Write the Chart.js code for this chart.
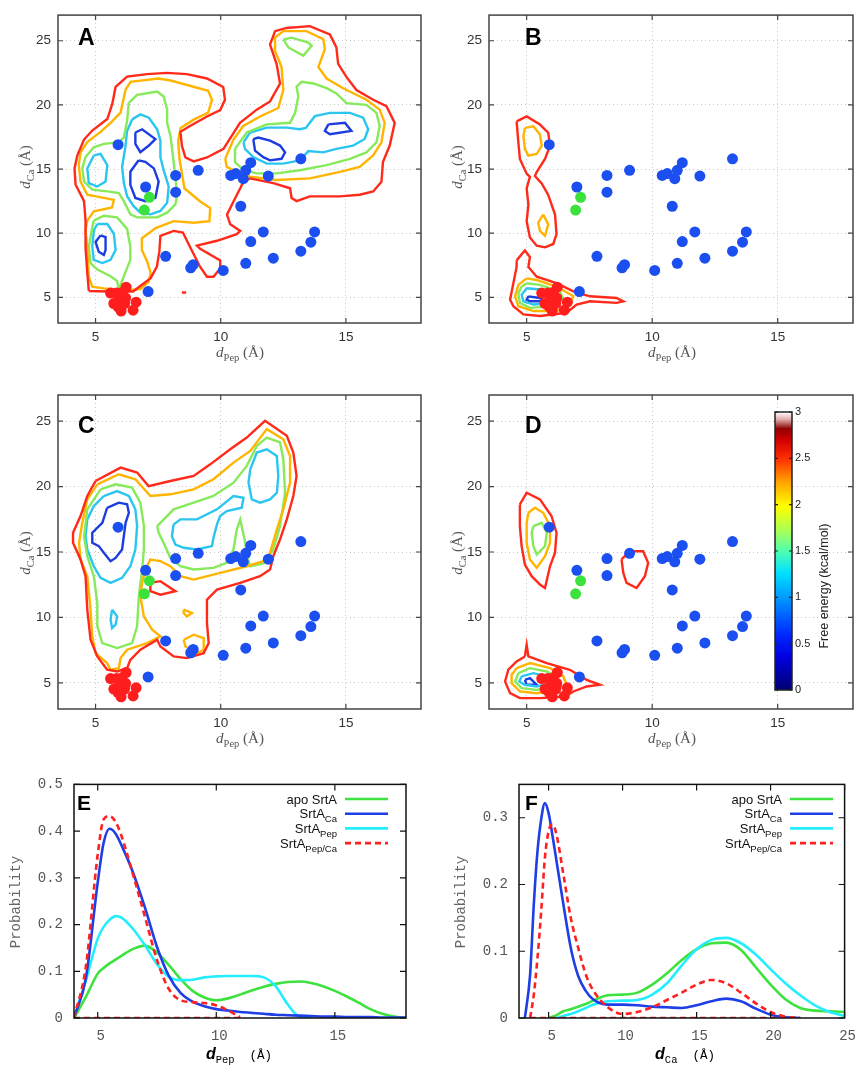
<!DOCTYPE html>
<html>
<head>
<meta charset="utf-8">
<title>SrtA free energy maps</title>
<script src="https://cdn.jsdelivr.net/npm/chart.js@4.4.1/dist/chart.umd.min.js"></script>
<style>
  body { margin: 0; background: #fff; }
  #fig { position: relative; width: 863px; height: 1066px; overflow: hidden; }
  #fig canvas { position: absolute; }
</style>
</head>
<body>
<div id="fig">
  <canvas id="pA" width="431" height="370" style="left:0;top:0"></canvas>
  <canvas id="pB" width="432" height="370" style="left:431px;top:0"></canvas>
  <canvas id="pC" width="431" height="385" style="left:0;top:375px"></canvas>
  <canvas id="pD" width="432" height="385" style="left:431px;top:375px"></canvas>
  <canvas id="cbar" width="80" height="300" style="left:765px;top:400px"></canvas>
  <canvas id="pE" width="431" height="301" style="left:0;top:765px"></canvas>
  <canvas id="pF" width="432" height="301" style="left:431px;top:765px"></canvas>
</div>
<script>
// tick labels
const mapXTicks = [5, 10, 15];
const mapYTicks = [5, 10, 15, 20, 25];
const cbTicks = [0, 0.5, 1, 1.5, 2, 2.5, 3];
const eXTicks = [5, 10, 15];
const eYTicks = [0, 0.1, 0.2, 0.3, 0.4, 0.5];
const fXTicks = [5, 10, 15, 20, 25];
const fYTicks = [0, 0.1, 0.2, 0.3];

// structures marked on every map (dPep, dCa)
const blueSites = [[5.9,16.9],[7.0,13.6],[8.2,14.5],[8.2,13.2],[9.1,14.9],[10.4,14.5],[10.6,14.65],[11.0,14.9],[11.2,15.5],[10.9,14.25],[11.9,14.45],[13.2,15.8],[10.8,12.1],[11.7,10.1],[11.2,9.35],[13.75,10.1],[13.6,9.3],[13.2,8.6],[12.1,8.05],[11.0,7.65],[10.1,7.1],[8.9,7.55],[8.8,7.3],[7.8,8.2],[7.1,5.45]];
const greenSites = [[7.15,12.8],[6.95,11.8]];
const redSites = [[5.6,5.33],[5.84,5.33],[6.06,5.38],[6.22,5.79],[5.73,4.52],[5.97,4.82],[6.16,4.52],[6.02,3.93],[6.5,4.0],[6.62,4.62],[5.9,4.26],[6.2,4.95]];

// contour paths, A (apo SrtA)
const aRed = [
  [[4.73,5.5],[4.67,6.9],[4.6,8.9],[4.6,10.98],[4.54,12.5],[4.2,13.8],[4.16,15.05],[4.27,16.05],[4.54,17.3],[4.87,18.0],[5.47,18.9],[5.67,20.1],[5.8,21.4],[6.26,22.2],[7.06,22.4],[7.85,22.5],[8.65,22.4],[9.45,22.06],[10.1,21.4],[10.17,20.4],[9.98,19.6],[9.45,19.1],[8.72,18.3],[8.39,17.9],[8.45,16.8],[8.59,15.9],[8.92,15.6],[9.45,15.9],[10.11,16.57],[10.77,18.61],[11.44,19.63],[11.97,20.27],[12.37,21.67],[12.23,23.2],[11.97,24.7],[12.17,25.75],[12.63,26.0],[13.56,26.14],[14.36,25.5],[14.62,24.48],[14.69,23.2],[15.02,22.18],[15.42,21.16],[16.09,20.4],[16.62,19.9],[16.95,18.6],[16.75,16.83],[16.48,15.55],[16.42,14.0],[16.09,13.25],[15.55,13.0],[14.76,12.87],[13.56,12.87],[13.03,12.5],[12.83,12.74],[12.77,13.5],[12.1,13.9],[11.17,14.27],[10.9,14.0],[10.78,13.5],[10.51,12.47],[10.25,11.45],[10.38,10.69],[10.78,10.18],[10.64,9.92],[9.85,9.41],[9.05,9.03],[9.18,8.78],[9.98,7.88],[9.98,7.24],[9.71,6.61],[9.45,6.61],[9.18,7.37],[8.78,8.9],[8.49,10.05],[8.12,10.18],[7.59,9.8],[7.55,8.6],[7.45,7.4],[7.2,6.5],[6.8,5.9],[6.5,5.45],[5.5,5.45]],
  [[8.45,5.38],[8.62,5.38]]
];
const aOrange = [
  [[6.2,21.2],[6.4,21.8],[7.5,22.06],[8.0,21.9],[9.5,21.1],[9.65,20.4],[9.5,19.4],[8.92,18.85],[8.4,18.2],[8.3,17.2],[8.35,15.8],[8.55,13.5],[9.18,12.47],[9.58,11.96],[9.55,10.94],[8.92,10.82],[8.12,10.94],[7.4,10.4],[6.85,9.6],[6.85,8.7],[7.06,7.8],[7.2,6.9],[7.12,6.2],[6.8,5.65],[6.26,5.55],[5.33,5.7],[4.87,5.84],[4.73,6.6],[4.67,8.9],[4.6,10.2],[4.67,10.98],[4.93,11.7],[5.66,12.0],[5.73,12.6],[5.33,12.75],[4.67,13.0],[4.4,14.03],[4.33,15.3],[4.4,16.3],[4.67,17.1],[5.2,17.9],[5.6,18.6],[6.0,19.4]],
  [[10.18,15.8],[10.51,17.3],[10.9,18.36],[11.57,19.1],[12.3,19.76],[12.5,21.16],[12.43,22.95],[12.17,24.2],[12.17,25.24],[12.5,25.75],[13.43,25.75],[14.1,25.12],[14.16,24.35],[13.9,22.95],[14.23,22.06],[14.89,21.3],[15.82,20.4],[16.35,19.63],[16.55,18.6],[16.42,17.08],[16.09,16.06],[15.55,15.17],[14.76,14.78],[13.56,14.27],[12.23,14.15],[11.17,14.4],[10.64,14.78],[10.24,15.17]]
];
const aGreen = [
  [[6.33,20.15],[6.66,20.78],[7.46,21.04],[7.72,20.66],[7.86,19.64],[7.86,18.6],[7.99,17.6],[8.12,15.56],[8.19,14.28],[8.26,13.0],[8.19,12.24],[7.86,11.6],[7.46,11.23],[6.66,11.23],[6.39,11.47],[6.13,12.5],[5.93,13.13],[5.47,13.26],[4.87,13.39],[4.54,14.03],[4.47,15.05],[4.6,15.94],[4.93,16.7],[5.33,16.96],[5.93,17.08],[6.13,17.46],[6.26,18.74]],
  [[4.93,10.98],[5.33,11.36],[5.86,11.23],[6.26,10.34],[6.39,8.94],[6.39,7.92],[6.13,6.65],[5.93,5.6],[5.86,6.27],[5.6,6.65],[5.07,7.16],[4.8,7.67],[4.73,8.94],[4.87,10.47]],
  [[10.57,16.57],[11.04,17.85],[11.84,18.48],[12.77,18.61],[12.97,19.38],[13.1,20.65],[13.03,21.42],[13.23,21.8],[13.7,21.67],[14.23,21.3],[14.62,20.9],[15.02,20.14],[15.82,20.0],[16.22,19.38],[16.35,18.36],[16.22,17.08],[15.82,16.3],[15.16,15.8],[14.23,15.3],[13.16,14.91],[12.23,14.66],[11.44,14.66],[10.91,14.91],[10.57,15.55]],
  [[12.5,25.1],[12.7,24.48],[13.3,23.84],[13.63,24.6],[13.5,24.86],[12.83,25.24]]
];
const aCyan = [
  [[6.46,18.87],[6.79,19.26],[7.13,19.0],[7.46,18.1],[7.59,17.21],[7.59,15.94],[7.72,14.92],[7.92,13.64],[7.86,12.37],[7.59,11.73],[7.19,11.47],[6.79,11.6],[6.52,12.11],[6.26,12.88],[6.13,13.9],[6.06,15.18],[6.19,16.7],[6.26,17.97]],
  [[4.93,16.06],[5.2,16.19],[5.47,15.3],[5.4,14.03],[5.07,13.64],[4.73,13.9],[4.67,15.05]],
  [[5.07,10.72],[5.47,10.72],[5.73,9.96],[5.8,8.68],[5.6,7.92],[5.27,7.67],[4.93,7.92],[4.87,8.94],[4.93,10.21]],
  [[10.91,17.08],[11.17,17.85],[11.84,18.23],[12.63,18.23],[13.16,18.1],[13.4,18.2],[13.76,19.12],[14.36,19.38],[15.16,19.38],[15.69,19.0],[15.89,18.1],[15.75,17.34],[15.29,16.83],[14.62,16.57],[14.09,16.3],[13.5,16.4],[13.16,15.68],[12.5,15.42],[11.84,15.42],[11.3,15.93],[10.97,16.57]]
];
const aBlue = [
  [[6.59,17.85],[6.86,18.1],[7.39,17.34],[7.13,16.83],[6.79,16.32],[6.59,16.96]],
  [[6.72,15.68],[6.39,14.79],[6.39,13.77],[6.59,12.75],[6.99,12.5],[7.39,12.75],[7.52,14.03],[7.33,15.05],[6.99,15.56]],
  [[5.2,9.83],[5.4,9.7],[5.4,8.68],[5.33,8.3],[5.13,8.55],[5.0,9.32]],
  [[11.3,17.34],[11.5,17.46],[11.97,17.21],[12.37,16.83],[12.57,16.3],[12.43,15.8],[11.97,15.68],[11.7,15.93],[11.37,16.44]],
  [[14.3,18.48],[14.96,18.61],[15.22,17.97],[14.36,17.72],[14.16,17.97]]
];

// contour paths, B (SrtA Ca)
const bRed = [
  [[4.6,18.72],[5.0,19.1],[5.53,18.47],[5.86,17.83],[5.93,16.81],[5.73,15.79],[5.4,14.77],[5.33,14.46],[5.6,13.88],[5.86,12.98],[6.13,11.45],[6.19,9.92],[6.06,9.16],[5.73,8.9],[5.4,9.03],[5.13,9.67],[5.0,10.94],[5.07,12.22],[5.0,13.49],[5.13,14.39],[5.0,14.64],[4.73,15.79],[4.67,17.07]],
  [[4.6,7.88],[4.93,8.65],[5.13,8.14],[5.07,7.37],[5.4,6.61],[6.19,6.1],[6.86,5.46],[7.52,5.08],[8.58,4.95],[8.85,4.69],[8.58,4.57],[7.52,4.69],[6.99,4.44],[6.59,3.8],[5.53,3.55],[4.87,3.67],[4.47,4.31],[4.34,4.82],[4.47,6.1],[4.6,7.37]]
];
const bOrange = [
  [[4.93,18.21],[5.27,18.34],[5.53,17.7],[5.6,16.81],[5.4,16.17],[5.07,16.05],[4.93,16.56],[4.87,17.58]],
  [[5.66,11.45],[5.86,10.69],[5.73,9.8],[5.53,10.18],[5.46,10.82]],
  [[5.0,6.48],[5.4,6.35],[6.19,5.84],[6.86,5.08],[6.72,4.44],[6.19,3.93],[5.27,3.93],[4.67,4.31],[4.54,5.08],[4.67,5.97]]
];
const bGreen = [[[5.0,6.1],[5.53,5.97],[6.33,5.46],[6.46,4.82],[6.06,4.31],[5.13,4.18],[4.73,4.57],[4.67,5.33],[4.8,5.84]]];
const bCyan = [[[5.0,5.71],[5.66,5.59],[6.19,5.08],[6.06,4.57],[5.27,4.44],[4.87,4.69],[4.8,5.2]]];
const bBlue = [[[5.07,5.08],[5.53,4.95],[5.73,4.69],[5.13,4.69],[5.0,4.82]]];

// contour paths, C (SrtA Pep)
const cRed = [
  [[5.0,20.43],[6.0,21.45],[6.66,21.07],[7.12,20.04],[7.99,20.43],[8.92,20.81],[9.58,21.7],[10.38,22.85],[11.04,23.75],[11.77,25.03],[12.64,23.88],[12.9,22.6],[13.03,20.81],[12.9,19.28],[12.64,17.49],[12.37,15.96],[12.1,14.68],[11.97,13.66],[11.57,13.15],[10.78,12.64],[9.85,12.13],[9.45,11.36],[9.45,9.57],[9.52,8.04],[9.32,7.27],[8.65,6.89],[8.12,7.02],[7.59,7.78],[7.46,8.29],[6.79,7.53],[6.39,6.76],[6.26,6.12],[5.86,5.87],[5.46,6.0],[5.07,7.02],[4.8,8.29],[4.67,10.59],[4.6,13.15],[4.4,14.43],[4.1,15.7],[4.1,16.47],[4.4,17.75],[4.67,19.28]],
  [[7.19,12.64],[7.59,12.77],[8.19,12.0],[7.59,11.74],[7.19,12.0]]
];
const cOrange = [
  [[5.07,20.17],[5.93,20.94],[6.59,20.56],[7.19,19.28],[7.99,19.41],[8.92,19.79],[9.71,20.56],[10.51,21.83],[11.18,22.73],[11.84,24.39],[12.5,23.62],[12.77,22.34],[12.77,20.3],[12.5,18.26],[12.24,16.72],[11.97,14.94],[11.7,14.3],[11.04,13.91],[9.98,13.4],[8.92,12.89],[8.39,13.15],[7.99,13.91],[7.59,14.3],[7.19,14.43],[6.99,13.66],[6.86,12.64],[6.79,11.62],[6.93,10.08],[7.26,9.06],[7.59,8.55],[7.06,8.04],[6.26,7.53],[6.0,6.89],[5.93,6.12],[5.6,6.0],[5.46,6.51],[5.0,7.27],[4.87,8.55],[4.8,10.59],[4.67,13.15],[4.4,14.43],[4.34,15.7],[4.47,17.24],[4.67,19.02]],
  [[8.52,10.59],[8.85,10.34],[8.65,10.08],[8.52,10.34]],
  [[8.52,8.29],[8.92,8.68],[9.32,8.42],[9.32,7.53],[9.05,7.27],[8.85,7.53],[8.59,7.78]]
];
const cGreen = [
  [[5.2,19.79],[5.8,20.17],[6.46,19.92],[6.79,18.77],[6.93,16.98],[6.93,15.19],[6.86,13.66],[6.73,11.62],[6.66,9.32],[6.46,8.04],[5.86,7.66],[5.27,8.04],[5.07,9.32],[5.07,11.1],[4.93,13.15],[4.67,14.68],[4.54,16.21],[4.67,18.26]],
  [[7.46,16.98],[8.12,18.26],[8.92,18.77],[9.71,19.28],[10.51,20.3],[11.04,21.58],[11.44,23.11],[11.84,23.75],[12.37,23.37],[12.5,22.09],[12.57,19.53],[12.37,16.98],[12.1,15.19],[11.77,14.17],[11.18,13.91],[11.04,14.68],[10.98,15.7],[10.78,17.49],[10.64,16.72],[10.51,15.19],[10.24,14.17],[9.71,13.79],[8.92,13.66],[8.39,13.91],[7.99,14.55],[7.72,15.7],[7.52,16.47]]
];
const cCyan = [
  [[5.33,19.28],[5.86,19.66],[6.33,19.28],[6.59,18.26],[6.66,16.98],[6.59,15.19],[6.39,13.91],[6.06,13.02],[5.6,12.64],[5.2,13.02],[4.93,13.91],[4.67,15.19],[4.6,16.21],[4.67,17.49],[4.93,18.51]],
  [[5.66,10.59],[5.86,10.08],[5.8,9.44],[5.66,9.19],[5.6,9.83]],
  [[8.12,17.11],[8.39,17.49],[9.05,17.49],[9.85,18.26],[10.51,19.28],[10.91,19.15],[10.84,18.38],[10.24,18.13],[9.98,17.75],[9.85,17.11],[9.71,16.09],[9.65,15.45],[9.05,15.19],[8.52,15.32],[8.19,15.57],[8.05,16.21]],
  [[11.18,21.32],[11.44,22.6],[11.84,22.85],[12.24,22.34],[12.3,20.81],[12.24,19.53],[11.97,19.02],[11.57,18.77],[11.24,19.02],[11.11,20.3]]
];
const cBlue = [[[5.46,18.38],[5.93,18.77],[6.26,18.64],[6.33,18.0],[6.2,17.23],[6.13,16.21],[6.06,15.19],[5.8,14.55],[5.6,14.3],[5.33,14.94],[5.13,15.45],[4.87,15.7],[4.87,16.47],[5.27,17.23],[5.4,18.0]]];

// contour paths, D (SrtA Pep/Ca)
const dRed = [
  [[4.73,18.64],[5.0,19.53],[5.53,19.02],[5.99,17.75],[6.19,16.47],[6.13,14.94],[5.93,13.91],[5.73,12.25],[5.53,12.51],[5.2,13.15],[4.93,14.04],[4.8,15.45],[4.73,16.98]],
  [[8.78,14.43],[9.11,15.06],[9.64,15.06],[9.84,14.17],[9.71,13.15],[9.38,12.25],[8.98,12.64],[8.85,13.4]],
  [[4.93,7.02],[5.0,7.91],[5.07,7.02],[5.8,6.51],[6.72,6.0],[7.39,5.23],[7.92,4.85],[7.39,4.72],[6.86,4.34],[6.53,3.95],[5.53,3.83],[4.73,3.83],[4.34,4.21],[4.14,5.1],[4.27,6.0],[4.6,6.63]]
];
const dOrange = [
  [[5.07,18.0],[5.33,18.38],[5.66,18.0],[5.93,16.98],[5.93,15.7],[5.73,14.68],[5.4,13.79],[5.13,14.43],[5.0,15.7],[5.0,17.23]],
  [[4.6,6.12],[5.13,6.51],[5.93,6.12],[6.46,5.49],[6.59,4.85],[6.19,4.46],[5.4,4.21],[4.73,4.34],[4.4,4.97],[4.4,5.61]]
];
const dGreen = [
  [[5.27,16.98],[5.6,17.23],[5.8,16.47],[5.73,15.45],[5.4,14.81],[5.27,15.45],[5.2,16.47]],
  [[4.67,5.74],[5.13,6.12],[5.8,5.87],[6.26,5.36],[6.13,4.72],[5.4,4.46],[4.8,4.59],[4.54,5.1]]
];
const dCyan = [[[4.8,5.49],[5.27,5.74],[5.8,5.49],[5.93,4.97],[5.4,4.72],[4.93,4.85],[4.71,5.1]]];
const dBlue = [[[4.93,5.23],[5.13,5.36],[5.4,4.85],[5.0,4.85]]];

// E: probability vs dPep
const eX = [4,4.5,5,5.25,5.5,5.75,6,6.5,7,7.5,8,8.5,9,9.5,10,10.5,11,11.5,12,12.5,13,13.5,14,14.5,15,15.5,16,16.5,17,17.5,18];
const eApo = [0,0.045,0.095,0.107,0.117,0.125,0.133,0.148,0.155,0.14,0.113,0.083,0.058,0.044,0.038,0.042,0.05,0.059,0.067,0.073,0.077,0.078,0.075,0.068,0.058,0.046,0.033,0.019,0.009,0.003,0];
const eCa = [0,0.085,0.29,0.375,0.405,0.395,0.37,0.31,0.235,0.152,0.09,0.053,0.035,0.025,0.019,0.016,0.013,0.011,0.009,0.007,0.006,0.005,0.004,0.003,0.003,0.002,0.002,0.002,0.001,0.001,0.001];
const ePep = [0,0.08,0.17,0.195,0.21,0.218,0.215,0.19,0.155,0.115,0.088,0.081,0.082,0.087,0.089,0.09,0.09,0.09,0.087,0.068,0.03,0.003,0,null,null,null,null,null,null,null,null];
const ePepCa = [0,0.11,0.35,0.425,0.432,0.42,0.39,0.305,0.215,0.124,0.062,0.038,0.034,0.032,0.027,0.016,0.002,null,null,null,null,null,null,null,null,null,null,null,null,null,null];
const ePepCaBase = [4, 11];

// F: probability vs dCa
const fX = [3,3.4,3.75,4,4.25,4.5,4.75,5,5.25,5.5,6,6.5,7,7.5,8,9,10,11,12,13,14,15,16,17,18,19,20,21,22,23,24,25];
const fApo = [null,null,null,null,null,null,null,0,0.002,0.004,0.01,0.013,0.017,0.021,0.026,0.034,0.035,0.038,0.05,0.067,0.087,0.103,0.112,0.113,0.102,0.076,0.05,0.028,0.015,0.011,0.01,0.009];
const fCa = [null,0,0.065,0.17,0.25,0.298,0.322,0.307,0.275,0.24,0.17,0.105,0.063,0.041,0.028,0.02,0.02,0.019,0.017,0.016,0.015,0.019,0.025,0.029,0.025,0.014,0.005,0.001,0,null,null,null];
const fPep = [null,null,null,null,null,null,null,null,null,0,0.003,0.006,0.01,0.015,0.02,0.025,0.026,0.027,0.035,0.052,0.079,0.103,0.117,0.12,0.112,0.095,0.073,0.052,0.034,0.019,0.009,0.003];
const fPepCa = [null,null,0,0.035,0.09,0.16,0.24,0.28,0.29,0.278,0.215,0.15,0.105,0.066,0.042,0.016,0.006,0.009,0.016,0.027,0.038,0.05,0.057,0.052,0.038,0.022,0.009,0.002,0,null,null,null];
const fPepCaBase = [3.75, 22];

// styles
const LV = { red: '#ff2a1a', orange: '#ffb400', green: '#86ea5a', cyan: '#2ac6f0', blue: '#1c3ce0' };
const COL = { apo: '#3ee23e', ca: '#1e3ee6', pep: '#22eeff', pepCa: '#ff2020' };
const SANS = '"Liberation Sans", Arial, sans-serif';
const SERIF = '"Liberation Serif", "DejaVu Serif", serif';
const MONO = '"Liberation Mono", "DejaVu Sans Mono", monospace';

const pts = p => p.map(([x, y]) => ({ x, y }));
const loop = p => pts(p.concat([p[0]]));
const fixTicks = arr => s => { s.ticks = arr.map(v => ({ value: v })); };

function rich(ctx, parts, x, y, align) {
  let w = 0;
  parts.forEach(p => { ctx.font = p[1]; w += ctx.measureText(p[0]).width; });
  let cx = align === 'right' ? x - w : align === 'left' ? x : x - w / 2;
  parts.forEach(p => { ctx.font = p[1]; ctx.fillText(p[0], cx, y + (p[2] || 0)); cx += ctx.measureText(p[0]).width; });
}

const mapXTitle = [['d', 'italic 15px ' + SERIF], ['Pep', '10.5px ' + SERIF, 4], [' (Å)', '15px ' + SERIF]];
const mapYTitle = [['d', 'italic 15px ' + SERIF], ['Ca', '10.5px ' + SERIF, 4], [' (Å)', '15px ' + SERIF]];
const sub = (a, b) => [[a, '13px ' + SANS], [b, '9.5px ' + SANS, 4]];
const probLegend = [
  { parts: [['apo SrtA', '13px ' + SANS]], color: COL.apo },
  { parts: sub('SrtA', 'Ca'), color: COL.ca },
  { parts: sub('SrtA', 'Pep'), color: COL.pep },
  { parts: sub('SrtA', 'Pep/Ca'), color: COL.pepCa, dash: [6, 4] }
];

const DECO = {
  pA: { letter: 'A', lx: 78, ly: 45, lfont: 'bold 23px ' + SANS, xt: mapXTitle, xtp: [240, 357], yt: mapYTitle, ytp: [25, 167], frame: '#444', tick: 5 },
  pB: { letter: 'B', lx: 94, ly: 45, lfont: 'bold 23px ' + SANS, xt: mapXTitle, xtp: [241, 357], yt: mapYTitle, ytp: [26, 167], frame: '#444', tick: 5 },
  pC: { letter: 'C', lx: 78, ly: 58, lfont: 'bold 23px ' + SANS, xt: mapXTitle, xtp: [240, 368], yt: mapYTitle, ytp: [25, 178], frame: '#444', tick: 5 },
  pD: { letter: 'D', lx: 94, ly: 58, lfont: 'bold 23px ' + SANS, xt: mapXTitle, xtp: [241, 368], yt: mapYTitle, ytp: [26, 178], frame: '#444', tick: 5 },
  cbar: { yt: [['Free energy (kcal/mol)', '12.5px ' + SANS]], ytp: [58, 186], frame: '#222', tick: 3, noX: true, tcolor: '#222' },
  pE: { letter: 'E', lx: 77, ly: 45, lfont: 'bold 21px ' + SANS, frame: '#111', tick: 6, tcolor: '#000',
        xt: [['d', 'italic bold 16px ' + SANS], ['Pep', '10.5px ' + MONO, 4], ['  (Å)', '12.5px ' + MONO]], xtp: [239, 294],
        yt: [['Probability', '14px ' + MONO]], ytp: [15, 137], ytc: '#666',
        legend: { right: 337, x0: 345, x1: 388, y0: 34, dy: 14.7, items: probLegend } },
  pF: { letter: 'F', lx: 94, ly: 45, lfont: 'bold 21px ' + SANS, frame: '#111', tick: 6, tcolor: '#000',
        xt: [['d', 'italic bold 16px ' + SANS], ['Ca', '10.5px ' + MONO, 4], ['  (Å)', '12.5px ' + MONO]], xtp: [254, 294],
        yt: [['Probability', '14px ' + MONO]], ytp: [29, 137], ytc: '#666',
        legend: { right: 351, x0: 359, x1: 402, y0: 34, dy: 14.7, items: probLegend } }
};

const decoPlugin = {
  id: 'deco',
  afterDraw(chart) {
    const o = DECO[chart.canvas.id];
    if (!o) return;
    const { ctx, chartArea: a, scales } = chart;
    ctx.save();
    ctx.textAlign = 'left';
    ctx.textBaseline = 'alphabetic';
    // inward ticks on all sides
    ctx.strokeStyle = o.frame;
    ctx.lineWidth = 1.2;
    ctx.beginPath();
    if (!o.noX) scales.x.ticks.forEach(t => {
      const p = scales.x.getPixelForValue(t.value);
      ctx.moveTo(p, a.bottom); ctx.lineTo(p, a.bottom - o.tick);
      ctx.moveTo(p, a.top); ctx.lineTo(p, a.top + o.tick);
    });
    scales.y.ticks.forEach(t => {
      const p = scales.y.getPixelForValue(t.value);
      ctx.moveTo(a.left, p); ctx.lineTo(a.left + o.tick, p);
      ctx.moveTo(a.right, p); ctx.lineTo(a.right - o.tick, p);
    });
    ctx.stroke();
    ctx.lineWidth = 1.5;
    ctx.strokeRect(a.left, a.top, a.right - a.left, a.bottom - a.top);
    // panel letter
    if (o.letter) { ctx.fillStyle = '#000'; ctx.font = o.lfont; ctx.fillText(o.letter, o.lx, o.ly); }
    // axis titles
    ctx.fillStyle = o.tcolor || '#555';
    if (o.xt) rich(ctx, o.xt, o.xtp[0], o.xtp[1], 'center');
    if (o.yt) {
      ctx.save();
      ctx.fillStyle = o.ytc || o.tcolor || '#555';
      ctx.translate(o.ytp[0], o.ytp[1]);
      ctx.rotate(-Math.PI / 2);
      rich(ctx, o.yt, 0, 5, 'center');
      ctx.restore();
    }
    // legend with subscripts
    if (o.legend) {
      const L = o.legend;
      L.items.forEach((it, i) => {
        const y = L.y0 + i * L.dy;
        ctx.fillStyle = '#111';
        rich(ctx, it.parts, L.right, y + 4.5, 'right');
        ctx.strokeStyle = it.color;
        ctx.lineWidth = 2.6;
        ctx.setLineDash(it.dash || []);
        ctx.beginPath(); ctx.moveTo(L.x0, y); ctx.lineTo(L.x1, y); ctx.stroke();
      });
      ctx.setLineDash([]);
    }
    ctx.restore();
  }
};

function mapDatasets(levels) {
  const sets = [
    { data: pts(blueSites), pointBackgroundColor: '#1b4ff0', pointBorderWidth: 0, pointRadius: 5.5, order: 0 },
    { data: pts(greenSites), pointBackgroundColor: '#3ce23c', pointBorderWidth: 0, pointRadius: 5.5, order: 0 },
    { data: pts(redSites), pointBackgroundColor: '#ff1e1e', pointBorderWidth: 0, pointRadius: 5.5, order: 0 }
  ];
  levels.forEach(([paths, color]) => paths.forEach(p => sets.push({
    data: loop(p), showLine: true, borderColor: color, borderWidth: 2.4, pointRadius: 0, tension: 0, order: 5
  })));
  return sets;
}

function mapChart(id, levels, top, xh) {
  const tickFont = { family: SANS, size: 13.5 };
  return new Chart(document.getElementById(id), {
    type: 'scatter',
    data: { datasets: mapDatasets(levels) },
    options: {
      responsive: false, animation: false,
      layout: { padding: { top: top, right: 10, left: 0, bottom: 0 } },
      plugins: { legend: { display: false }, tooltip: { enabled: false } },
      scales: {
        x: { type: 'linear', min: 3.5, max: 18, afterBuildTicks: fixTicks(mapXTicks), afterFit: s => { s.height = xh; },
             grid: { color: '#c8c8c8', lineWidth: 1, drawTicks: false }, border: { display: false, dash: [1, 3] },
             ticks: { color: '#333', font: tickFont, padding: 6, maxRotation: 0, callback: v => String(v) } },
        y: { type: 'linear', min: 3, max: 27, afterBuildTicks: fixTicks(mapYTicks), afterFit: s => { s.width = 58; },
             grid: { color: '#c8c8c8', lineWidth: 1, drawTicks: false }, border: { display: false, dash: [1, 3] },
             ticks: { color: '#333', font: tickFont, padding: 7, callback: v => String(v) } }
      }
    },
    plugins: [decoPlugin]
  });
}

mapChart('pA', [[aRed, LV.red], [aOrange, LV.orange], [aGreen, LV.green], [aCyan, LV.cyan], [aBlue, LV.blue]], 10, 47);
mapChart('pB', [[bRed, LV.red], [bOrange, LV.orange], [bGreen, LV.green], [bCyan, LV.cyan], [bBlue, LV.blue]], 10, 47);
mapChart('pC', [[cRed, LV.red], [cOrange, LV.orange], [cGreen, LV.green], [cCyan, LV.cyan], [cBlue, LV.blue]], 20, 51);
mapChart('pD', [[dRed, LV.red], [dOrange, LV.orange], [dGreen, LV.green], [dCyan, LV.cyan], [dBlue, LV.blue]], 20, 51);

// colour bar for free energy
const jetPos = [0, 0.12, 0.2, 0.33, 0.42, 0.5, 0.58, 0.66, 0.75, 0.83, 0.9, 0.94, 0.955, 0.975, 1];
const jetCol = ['#000070', '#0000e0', '#0028ff', '#0098ff', '#00e0ff', '#50ffb0', '#b0ff50', '#ffff00', '#ffa000', '#ff3000', '#d00000', '#900000', '#b05050', '#e8b0b0', '#ffffff'];
new Chart(document.getElementById('cbar'), {
  type: 'bar',
  data: {
    labels: ['G'],
    datasets: [{
      data: [[0, 3]], barPercentage: 1, categoryPercentage: 1, borderWidth: 0,
      backgroundColor: c => {
        const area = c.chart.chartArea;
        if (!area) return '#888';
        const g = c.chart.ctx.createLinearGradient(0, area.bottom, 0, area.top);
        jetPos.forEach((p, i) => g.addColorStop(p, jetCol[i]));
        return g;
      }
    }]
  },
  options: {
    responsive: false, animation: false,
    layout: { padding: { left: 10, top: 12, bottom: 10, right: 0 } },
    plugins: { legend: { display: false }, tooltip: { enabled: false } },
    scales: {
      x: { display: false },
      y: { position: 'right', min: 0, max: 3, afterBuildTicks: fixTicks(cbTicks), afterFit: s => { s.width = 53; },
           grid: { display: false, drawTicks: false }, border: { display: false },
           ticks: { color: '#222', font: { family: SANS, size: 11 }, padding: 3, callback: v => String(v) } }
    }
  },
  plugins: [decoPlugin]
});

function curve(xs, ys, color, order, dash) {
  return { data: xs.map((x, i) => ({ x, y: ys[i] })), showLine: true, borderColor: color, borderWidth: 2.6,
           borderDash: dash || [], pointRadius: 0, cubicInterpolationMode: 'monotone', spanGaps: false, order };
}

function probChart(id, sets, xr, yr, xTicks, yTicks, yw, right) {
  const tickFont = { family: MONO, size: 14 };
  return new Chart(document.getElementById(id), {
    type: 'scatter',
    data: { datasets: sets },
    options: {
      responsive: false, animation: false,
      layout: { padding: { top: 19, right: right, left: 0, bottom: 0 } },
      plugins: { legend: { display: false }, tooltip: { enabled: false } },
      scales: {
        x: { type: 'linear', min: xr[0], max: xr[1], afterBuildTicks: fixTicks(xTicks), afterFit: s => { s.height = 48; },
             grid: { display: false, drawTicks: false }, border: { display: false },
             ticks: { color: '#555', font: tickFont, padding: 10, labelOffset: 3, maxRotation: 0, callback: v => String(v) } },
        y: { type: 'linear', min: yr[0], max: yr[1], afterBuildTicks: fixTicks(yTicks), afterFit: s => { s.width = yw; },
             grid: { display: false, drawTicks: false }, border: { display: false },
             ticks: { color: '#555', font: tickFont, padding: 11, callback: v => String(v) } }
      }
    },
    plugins: [decoPlugin]
  });
}

probChart('pE', [
  curve(eX, ePepCa, COL.pepCa, 0, [6, 4]),
  curve(ePepCaBase, [0, 0], COL.pepCa, 0, [6, 4]),
  curve(eX, eCa, COL.ca, 1),
  curve(eX, ePep, COL.pep, 2),
  curve(eX, eApo, COL.apo, 3)
], [4, 18], [0, 0.5], eXTicks, eYTicks, 74, 25);

probChart('pF', [
  curve(fX, fPepCa, COL.pepCa, 0, [6, 4]),
  curve(fPepCaBase, [0, 0], COL.pepCa, 0, [6, 4]),
  curve(fX, fCa, COL.ca, 1),
  curve(fX, fPep, COL.pep, 2),
  curve(fX, fApo, COL.apo, 3)
], [3, 25], [0, 0.35], fXTicks, fYTicks, 88, 11);
</script>
</body>
</html>
